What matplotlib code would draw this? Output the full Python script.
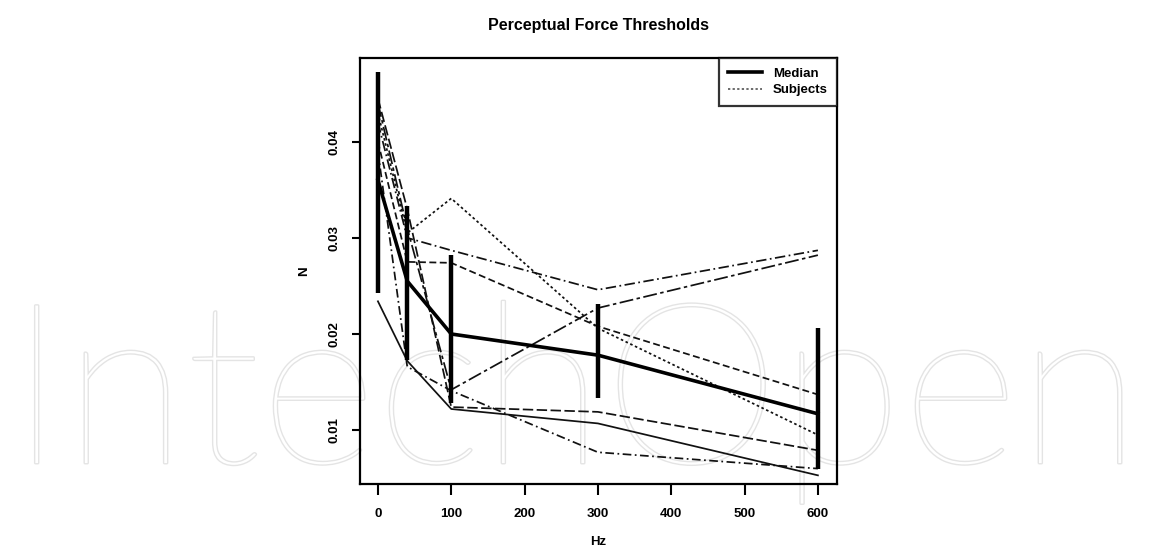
import numpy as np
import matplotlib
matplotlib.use('Agg')
import matplotlib.pyplot as plt
import matplotlib.patheffects as pe

plt.rcParams['font.family'] = ['Liberation Sans', 'DejaVu Sans']

hz = [0, 40, 100, 300, 600]

median = [0.0360, 0.0255, 0.0200, 0.0178, 0.0117]
err_lo = [0.0243, 0.0173, 0.0128, 0.0133, 0.0060]
err_hi = [0.0472, 0.0333, 0.0282, 0.0231, 0.0206]

# one row per subject
subjects = [
    [0.0420, 0.0300, 0.0287, 0.0246, 0.0287],
    [0.0440, 0.0310, 0.0142, 0.0227, 0.0282],
    [0.0430, 0.0305, 0.0341, 0.0206, 0.0095],
    [0.0400, 0.0275, 0.0274, 0.0208, 0.0137],
    [0.0445, 0.0330, 0.0124, 0.0119, 0.0079],
    [0.0234, 0.0172, 0.0122, 0.0107, 0.0053],
    [0.0390, 0.0166, 0.0141, 0.0077, 0.0060],
]
subject_styles = [(0, (6, 2, 1, 2)), (0, (8, 2, 2, 2)), (0, (1.5, 1.5)),
                  (0, (4, 2)), (0, (6, 2)), '-', (0, (5, 2, 1, 2))]

xticks = [0, 100, 200, 300, 400, 500, 600]
yticks = [0.01, 0.02, 0.03, 0.04]

fig = plt.figure(figsize=(11.5, 5.48), dpi=100)

# faint watermark behind the plot
fig.text(0.5, 0.155, 'IntechOpen', fontsize=162, fontweight='light',
         family=['Lato', 'DejaVu Sans'], ha='center', va='baseline',
         color='white', zorder=-1,
         path_effects=[pe.withStroke(linewidth=2, foreground='#e4e4e4')])

ax = fig.add_axes([0.313, 0.1168, 0.4148, 0.7773])
ax.set_facecolor('none')

for row, ls in zip(subjects, subject_styles):
    ax.plot(hz, row, color='#111111', lw=1.25, ls=ls)

ax.plot(hz, median, color='black', lw=2.6, label='Median')
ax.vlines(hz, err_lo, err_hi, color='black', lw=3.2)
ax.plot([], [], color='#444444', lw=1.1, ls=(0, (1.5, 1.5)), label='Subjects')

ax.set_xlim(-24.5, 626)
ax.set_ylim(0.0044, 0.0487)
ax.set_xticks(xticks)
ax.set_yticks(yticks)
ax.set_xticklabels([str(t) for t in xticks], fontweight='bold')
ax.set_yticklabels(['0.01', '0.02', '0.03', '0.04'], rotation=90,
                   va='center', fontweight='bold')
ax.tick_params(labelsize=9.5, length=6, width=1.5, pad=8)
ax.tick_params(axis='x', length=8, pad=9)
for s in ax.spines.values():
    s.set_linewidth(1.6)

ax.set_xlabel('Hz', fontsize=9.5, fontweight='bold', labelpad=12)
ax.set_ylabel('N', fontsize=9.5, fontweight='bold', labelpad=13)
ax.set_title('Perceptual Force Thresholds', fontsize=11.5, fontweight='bold', pad=20)

leg = ax.legend(loc='upper right', borderaxespad=0, fancybox=False,
                prop={'weight': 'bold', 'size': 9.5}, handlelength=2.6,
                borderpad=0.7, labelspacing=0.35)
leg.get_frame().set_edgecolor('black')
leg.get_frame().set_linewidth(1.6)

fig.savefig('out.png', dpi=100)
